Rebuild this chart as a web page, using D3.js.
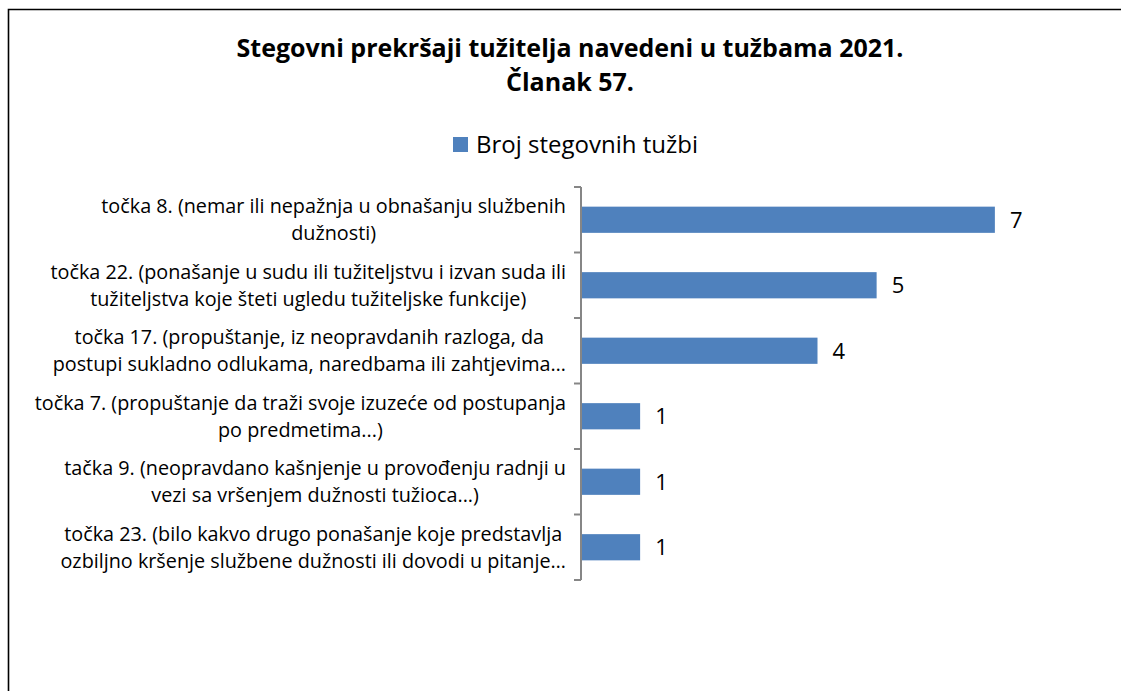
<!DOCTYPE html>
<html>
<head>
<meta charset="utf-8">
<script src="https://cdn.jsdelivr.net/npm/d3@7"></script>
<style>
	body { margin: 0; background: #fff; }
	svg text { font-family: "Open Sans", "Noto Sans", sans-serif; fill: #000; }
</style>
</head>
<body>
<svg id="chart" width="1121" height="691"></svg>
<script>
// chart data
var title_lines = ['Stegovni prekršaji tužitelja navedeni u tužbama 2021.', 'Članak 57.']
var series_name = 'Broj stegovnih tužbi'
var categories = [
	'točka 8. (nemar ili nepažnja u obnašanju službenih\ndužnosti)',
	'točka 22. (ponašanje u sudu ili tužiteljstvu i izvan suda ili\ntužiteljstva koje šteti ugledu tužiteljske funkcije)',
	'točka 17. (propuštanje, iz neopravdanih razloga, da\npostupi sukladno odlukama, naredbama ili zahtjevima…',
	'točka 7. (propuštanje da traži svoje izuzeće od postupanja\npo predmetima...)',
	'tačka 9. (neopravdano kašnjenje u provođenju radnji u\nvezi sa vršenjem dužnosti tužioca...)',
	'točka 23. (bilo kakvo drugo ponašanje koje predstavlja\nozbiljno kršenje službene dužnosti ili dovodi u pitanje…'
]
var values = [7, 5, 4, 1, 1, 1]
var x_max = 8

function draw(){
	var svg = d3.select('svg#chart')
	var bar_color = '#4F81BD'
	var axis_color = '#868686'

	// outer frame (top and left edges only show in the picture)
	svg.append('path')
		.attr('d', 'M8.5,691 L8.5,9.5 L1121,9.5')
		.style('fill', 'none')
		.style('stroke', '#000')
		.style('stroke-width', 1.6)

	// title
	svg.append('g').selectAll('text.title')
		.data(title_lines)
		.enter()
		.append('text')
		.attr('class', 'title')
		.attr('x', 570)
		.attr('y', function(d, i){return 57 + i * 34})
		.attr('text-anchor', 'middle')
		.style('font-weight', 'bold')
		.style('font-size', '25px')
		.text(function(d){return d})

	// legend
	var lg = svg.append('g').attr('transform', 'translate(453,137)')
	lg.append('rect')
		.attr('width', 15).attr('height', 15)
		.style('fill', bar_color)
	lg.append('text')
		.attr('x', 23).attr('y', 16)
		.style('font-size', '24px')
		.text(series_name)

	var scale_x = d3.scaleLinear()
		.domain([0, x_max])
		.range([581, 1054])
	var scale_y = d3.scaleBand()
		.domain(categories)
		.range([187, 580])
		.paddingInner(0.6)
		.paddingOuter(0.3)

	// bars
	svg.append('g').selectAll('rect.bar')
		.data(values)
		.enter()
		.append('rect')
		.attr('class', 'bar')
		.attr('x', scale_x(0))
		.attr('y', function(d, i){return scale_y(categories[i])})
		.attr('width', function(d){return scale_x(d) - scale_x(0)})
		.attr('height', scale_y.bandwidth())
		.style('fill', bar_color)

	// value labels
	svg.append('g').selectAll('text.value')
		.data(values)
		.enter()
		.append('text')
		.attr('class', 'value')
		.attr('x', function(d){return scale_x(d) + 15})
		.attr('y', function(d, i){return scale_y(categories[i]) + scale_y.bandwidth() / 2})
		.attr('dy', '0.36em')
		.style('font-size', '22px')
		.text(function(d){return d})

	// category axis: line plus ticks on the band edges
	var ax = svg.append('g')
	var edges = d3.range(categories.length + 1).map(function(i){return 187 + i * scale_y.step()})
	ax.append('line')
		.attr('x1', 581).attr('x2', 581)
		.attr('y1', 187).attr('y2', 580)
		.style('stroke', axis_color)
		.style('stroke-width', 2)
	ax.selectAll('line.tick')
		.data(edges)
		.enter()
		.append('line')
		.attr('class', 'tick')
		.attr('x1', 574).attr('x2', 581)
		.attr('y1', function(d){return d}).attr('y2', function(d){return d})
		.style('stroke', axis_color)
		.style('stroke-width', 2)

	// category labels: each block centred on its widest line, block right edge at 566
	var lab = svg.append('g')
	categories.forEach(function(c){
		var lines = c.split('\n')
		var cy = scale_y(c) + scale_y.bandwidth() / 2
		var t = lab.append('text')
			.style('font-size', '19.8px')
			.attr('text-anchor', 'middle')
		lines.forEach(function(l, i){
			t.append('tspan')
				.attr('y', cy + (i - (lines.length - 1) / 2) * 27)
				.attr('dy', '0.36em')
				.text(l)
		})
		var w = d3.max(t.selectAll('tspan').nodes(), function(n){return n.getComputedTextLength()})
		t.selectAll('tspan').attr('x', 566 - w / 2)
	})
}
draw()
</script>
</body>
</html>
